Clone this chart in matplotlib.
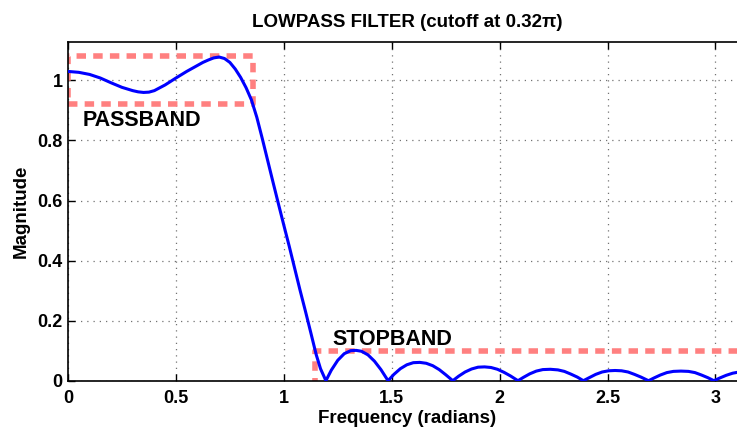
import matplotlib
matplotlib.use("Agg")
import matplotlib.pyplot as plt
import numpy as np

# ---- data ----
freq = [0.00, 0.05, 0.10, 0.15, 0.20, 0.25, 0.30, 0.325, 0.35, 0.375, 0.40, 0.45, 0.50, 0.55, 0.60,
        0.625, 0.65, 0.675, 0.70, 0.725, 0.75, 0.775, 0.80, 0.825, 0.85, 0.875, 0.90, 0.925, 0.95,
        0.975, 1.00, 1.025, 1.05, 1.075, 1.10, 1.125, 1.15, 1.17, 1.195,
        1.22, 1.25, 1.28, 1.31, 1.335, 1.36, 1.39, 1.42, 1.45, 1.483,
        1.51, 1.54, 1.57, 1.60, 1.63, 1.66, 1.69, 1.72, 1.75, 1.783,
        1.81, 1.84, 1.87, 1.90, 1.93, 1.96, 1.99, 2.02, 2.05, 2.085,
        2.11, 2.14, 2.17, 2.20, 2.235, 2.27, 2.30, 2.33, 2.36, 2.388,
        2.415, 2.445, 2.475, 2.505, 2.535, 2.565, 2.595, 2.625, 2.655, 2.690,
        2.715, 2.745, 2.775, 2.805, 2.84, 2.875, 2.905, 2.935, 2.965, 2.993,
        3.02, 3.05, 3.08, 3.11, 3.1416]
magnitude = [1.030, 1.027, 1.020, 1.008, 0.992, 0.977, 0.966, 0.962, 0.960, 0.961, 0.966, 0.985, 1.008, 1.030, 1.050,
             1.060, 1.068, 1.075, 1.078, 1.073, 1.060, 1.038, 1.010, 0.976, 0.935, 0.877, 0.807, 0.734, 0.661,
             0.589, 0.518, 0.448, 0.375, 0.302, 0.232, 0.160, 0.087, 0.040, 0.000,
             0.035, 0.068, 0.090, 0.100, 0.101, 0.098, 0.086, 0.065, 0.037, 0.000,
             0.021, 0.040, 0.053, 0.060, 0.061, 0.058, 0.050, 0.037, 0.020, 0.000,
             0.015, 0.029, 0.039, 0.045, 0.046, 0.044, 0.038, 0.028, 0.016, 0.000,
             0.011, 0.023, 0.032, 0.037, 0.038, 0.036, 0.031, 0.022, 0.012, 0.000,
             0.010, 0.021, 0.029, 0.033, 0.034, 0.033, 0.029, 0.021, 0.012, 0.000,
             0.009, 0.019, 0.027, 0.031, 0.032, 0.031, 0.027, 0.019, 0.010, 0.000,
             0.009, 0.018, 0.025, 0.029, 0.031]

passband_box_x = [0.0, 0.855, 0.855, 0.0, 0.0]
passband_box_y = [0.922, 0.922, 1.08, 1.08, 0.922]
stopband_box_x = [3.1416, 1.145, 1.145]
stopband_box_y = [0.1, 0.1, 0.0]

xticks = [0, 0.5, 1, 1.5, 2, 2.5, 3]
xticklabels = ["0", "0.5", "1", "1.5", "2", "2.5", "3"]
yticks = [0, 0.2, 0.4, 0.6, 0.8, 1]
yticklabels = ["0", "0.2", "0.4", "0.6", "0.8", "1"]

title = "LOWPASS FILTER (cutoff at 0.32\u03c0)"
xlabel = "Frequency (radians)"
ylabel = "Magnitude"

plt.rcParams['font.family'] = ['Liberation Sans', 'DejaVu Sans']
plt.rcParams['font.weight'] = 'bold'

W, H = 737, 430
fig = plt.figure(figsize=(W / 100, H / 100), dpi=100)
ax = fig.add_axes([68 / W, (H - 380.7) / H, (746 - 68) / W, (380.7 - 42) / H])

red = '#ff8080'
ax.plot(passband_box_x, passband_box_y, color=red, lw=4, dashes=(1.7, 1.3), solid_capstyle='butt', zorder=2)
ax.plot(stopband_box_x, stopband_box_y, color=red, lw=4, dashes=(1.7, 1.3), solid_capstyle='butt', zorder=2)
ax.plot(freq, magnitude, color='#0000ff', lw=2.2, zorder=3)

ax.set_xlim(0, np.pi)
ax.set_ylim(0, 1.128)
ax.set_xticks(xticks)
ax.set_xticklabels(xticklabels)
ax.set_yticks(yticks)
ax.set_yticklabels(yticklabels)
ax.tick_params(axis='both', direction='in', length=5, width=1, top=True, right=True, labelsize=13)
ax.tick_params(axis='x', pad=7)
ax.tick_params(axis='y', pad=4)
for lab in ax.get_xticklabels() + ax.get_yticklabels():
    lab.set_fontweight('bold')

ax.grid(True, color='0.45', linestyle=(0, (1, 4)), linewidth=0.9)
ax.set_axisbelow(True)
for s in ax.spines.values():
    s.set_linewidth(1.2)
    s.set_color('black')

ax.set_title(title, fontsize=13.5, fontweight='bold', pad=11)
ax.set_xlabel(xlabel, fontsize=13.5, fontweight='bold', labelpad=2)
ax.set_ylabel(ylabel, fontsize=13.5, fontweight='bold', labelpad=5)

ax.text(0.0695, 0.848, "PASSBAND", fontsize=15.5, fontweight='bold', va='baseline', ha='left', zorder=4)
ax.text(1.227, 0.119, "STOPBAND", fontsize=15.5, fontweight='bold', va='baseline', ha='left', zorder=4)

fig.savefig("out.png", dpi=100)
